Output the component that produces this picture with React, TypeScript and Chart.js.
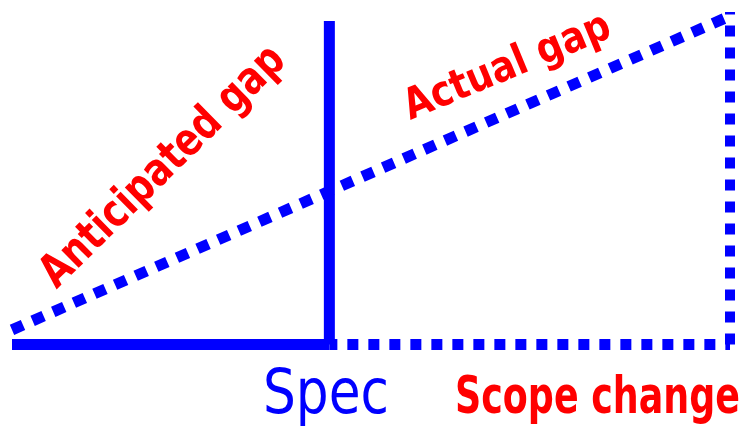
import { useEffect, useRef } from "react";
import { Chart, registerables } from "chart.js";
Chart.register(...registerables);

// Data (abstract units: x 0..100, y 0..100)
const baseX = [0, 44.2];
const baseY = [0, 0];
const specX = [44.2, 44.2];
const specY = [0, 97.3];
const scopeX = [44.2, 100];
const scopeY = [0, 0];
const edgeX = [100, 100];
const edgeY = [0, 100];
const actualX = [0, 100];
const actualY = [4.4, 98.8];

const labels = ["Anticipated gap", "Actual gap", "Spec", "Scope change"];

const BLUE = "#0000ff";
const RED = "#ff0000";

const pts = (xs: number[], ys: number[]) => xs.map((x, i) => ({ x, y: ys[i] }));

// Text styles (pixel placement of labels)
const textStyles = [
  { cx: 172, cy: 176, angle: -44.5, width: 324, cap: 33, weight: "bold", color: RED },
  { cx: 512, cy: 78, angle: -22.5, width: 220, cap: 31, weight: "bold", color: RED },
  { cx: 326, cy: 413, angle: 0, width: 126, cap: 46, weight: "normal", color: BLUE },
  { cx: 597.5, cy: 413, angle: 0, width: 285, cap: 38, weight: "bold", color: RED },
];

const textPlugin = {
  id: "gapTexts",
  afterDatasetsDraw(chart: any) {
    const ctx = chart.ctx as CanvasRenderingContext2D;
    labels.forEach((text, i) => {
      const t = textStyles[i];
      ctx.save();
      ctx.font = `${t.weight} 100px "DejaVu Sans"`;
      const w100 = ctx.measureText(text).width;
      ctx.translate(t.cx, t.cy);
      ctx.rotate((t.angle * Math.PI) / 180);
      ctx.scale(t.width / w100, t.cap / 72.9);
      ctx.fillStyle = t.color;
      ctx.textAlign = "center";
      ctx.textBaseline = "alphabetic";
      ctx.fillText(text, 0, 0);
      ctx.restore();
    });
  },
};

export default function App() {
  const ref = useRef<HTMLCanvasElement | null>(null);
  useEffect(() => {
    if (!ref.current) return;
    const common = { pointRadius: 0, borderColor: BLUE, fill: false, clip: false as any, borderCapStyle: "butt" as const };
    const chart = new Chart(ref.current, {
      type: "line",
      data: {
        datasets: [
          { ...common, data: pts(baseX, baseY), borderWidth: 11 },
          { ...common, data: pts(specX, specY), borderWidth: 11 },
          { ...common, data: pts(scopeX, scopeY), borderWidth: 11, borderDash: [11, 10], borderDashOffset: 3 },
          { ...common, data: pts(edgeX, edgeY), borderWidth: 10, borderDash: [11, 11] },
          { ...common, data: pts(actualX, actualY), borderWidth: 11, borderDash: [12, 10.5] },
        ],
      },
      options: {
        animation: false,
        responsive: true,
        maintainAspectRatio: false,
        layout: { padding: { left: 12, right: 12, top: 12, bottom: 81.5 } },
        plugins: { legend: { display: false }, tooltip: { enabled: false } },
        scales: {
          x: { type: "linear", min: 0, max: 100, display: false },
          y: { type: "linear", min: 0, max: 100, display: false },
        },
      },
      plugins: [textPlugin],
    });
    return () => chart.destroy();
  }, []);
  return (
    <div style={{ position: "absolute", left: 0, top: 0, width: 742, height: 426, background: "#fff" }}>
      <canvas ref={ref} />
    </div>
  );
}
